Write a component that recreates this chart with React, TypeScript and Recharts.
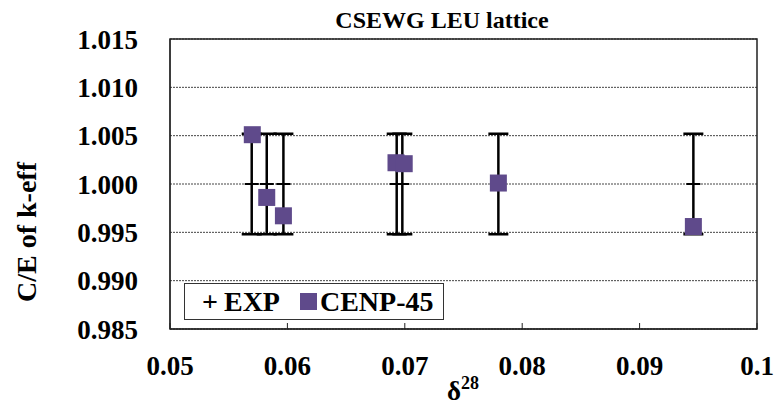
import React from 'react';
import {
    ScatterChart,
    Scatter,
    XAxis,
    YAxis,
    CartesianGrid,
    ErrorBar,
    ReferenceArea,
} from 'recharts';

// delta-28 of each lattice and the C/E values
const deltas = [0.05696, 0.05824, 0.05966, 0.06931, 0.06979, 0.07797, 0.09458];
const expValues = [1.0, 1.0, 1.0, 1.0, 1.0, 1.0, 1.0];
const expErrors = [0.0052, 0.0052, 0.0052, 0.0052, 0.0052, 0.0052, 0.0052];
const cenpX = [0.05701, 0.05824, 0.05966, 0.06925, 0.06995, 0.07797, 0.09458];
const cenpValues = [1.0051, 0.99861, 0.99671, 1.0022, 1.0021, 1.0001, 0.9956];

const xTicks = [0.05, 0.06, 0.07, 0.08, 0.09, 0.1];
const yTicks = [0.985, 0.99, 0.995, 1.0, 1.005, 1.01, 1.015];

const expData = deltas.map((x, i) => ({ x, y: expValues[i], err: expErrors[i] }));
const cenpData = cenpX.map((x, i) => ({ x, y: cenpValues[i] }));

const FONT = 'Liberation Serif';
const PURPLE = '#5f4a8b';

const PlusMarker = (props: any) => {
    const { cx, cy } = props;
    return <line x1={cx - 7} x2={cx + 7} y1={cy} y2={cy} stroke="#000" strokeWidth={2} />;
};

const SquareMarker = (props: any) => {
    const { cx, cy } = props;
    return <rect x={cx - 8.5} y={cy - 8.5} width={17} height={17} fill={PURPLE} />;
};

const LegendBox = () => (
    <div
        style={{
            position: 'absolute',
            left: 184,
            top: 283,
            width: 260,
            height: 37,
            border: '1.5px solid #333',
            background: '#fff',
            display: 'flex',
            alignItems: 'center',
            fontFamily: FONT,
            fontWeight: 'bold',
            fontSize: 28,
            lineHeight: '28px',
            boxSizing: 'border-box',
        }}
    >
        <span style={{ marginLeft: 17 }}>+</span>
        <span style={{ marginLeft: 6 }}>EXP</span>
        <span style={{ display: 'inline-block', width: 17, height: 17, background: PURPLE, marginLeft: 20 }} />
        <span style={{ marginLeft: 3 }}>CENP-45</span>
    </div>
);

const XLabel = () => (
    <text x={447} y={400} fontFamily={FONT} fontWeight="bold" fontSize={27} fill="#000">
        δ<tspan fontSize={18} dy={-11}>28</tspan>
    </text>
);

const YLabel = () => (
    <text
        x={0}
        y={0}
        transform="translate(36, 232) rotate(-90)"
        textAnchor="middle"
        fontFamily={FONT}
        fontWeight="bold"
        fontSize={28}
        fill="#000"
    >
        C/E of k-eff
    </text>
);

const tickStyle = { fill: '#000', fontSize: 27, fontFamily: FONT, fontWeight: 'bold' };

export default function App() {
    return (
        <div
            style={{
                position: 'absolute',
                left: 0,
                top: 0,
                width: 776,
                height: 405,
                background: '#fff',
                fontFamily: FONT,
                fontWeight: 'bold',
            }}
        >
            <div
                style={{
                    position: 'absolute',
                    left: 0,
                    width: 884,
                    top: 8,
                    textAlign: 'center',
                    fontSize: 24,
                    lineHeight: '24px',
                }}
            >
                CSEWG LEU lattice
            </div>
            <ScatterChart
                width={776}
                height={405}
                margin={{ top: 39, right: 19, left: 0, bottom: 0 }}
                style={{ fontFamily: FONT }}
            >
                <CartesianGrid
                    horizontal
                    vertical={false}
                    stroke="#444"
                    strokeDasharray="2 1"
                />
                <XAxis
                    type="number"
                    dataKey="x"
                    domain={[0.05, 0.1]}
                    ticks={xTicks}
                    tickFormatter={(v: number) => String(Number(v.toFixed(2)))}
                    height={76}
                    tickSize={-6}
                    tickMargin={33}
                    stroke="#222"
                    tick={tickStyle}
                    label={<XLabel />}
                    allowDataOverflow
                />
                <YAxis
                    type="number"
                    dataKey="y"
                    domain={[0.985, 1.015]}
                    ticks={yTicks}
                    tickFormatter={(v: number) => v.toFixed(3)}
                    width={170}
                    tickSize={0}
                    tickMargin={32}
                    stroke="#222"
                    tick={tickStyle}
                    label={<YLabel />}
                    allowDataOverflow
                />
                <ReferenceArea
                    x1={0.05}
                    x2={0.1}
                    y1={0.985}
                    y2={1.015}
                    fill="none"
                    fillOpacity={0}
                    stroke="#222"
                    strokeWidth={1.5}
                />
                <Scatter
                    name="EXP"
                    data={expData}
                    shape={PlusMarker}
                    isAnimationActive={false}
                >
                    <ErrorBar dataKey="err" direction="y" width={10} stroke="#000" strokeWidth={2.5} />
                </Scatter>
                <Scatter
                    name="CENP-45"
                    data={cenpData}
                    shape={SquareMarker}
                    isAnimationActive={false}
                />
            </ScatterChart>
            <LegendBox />
        </div>
    );
}
